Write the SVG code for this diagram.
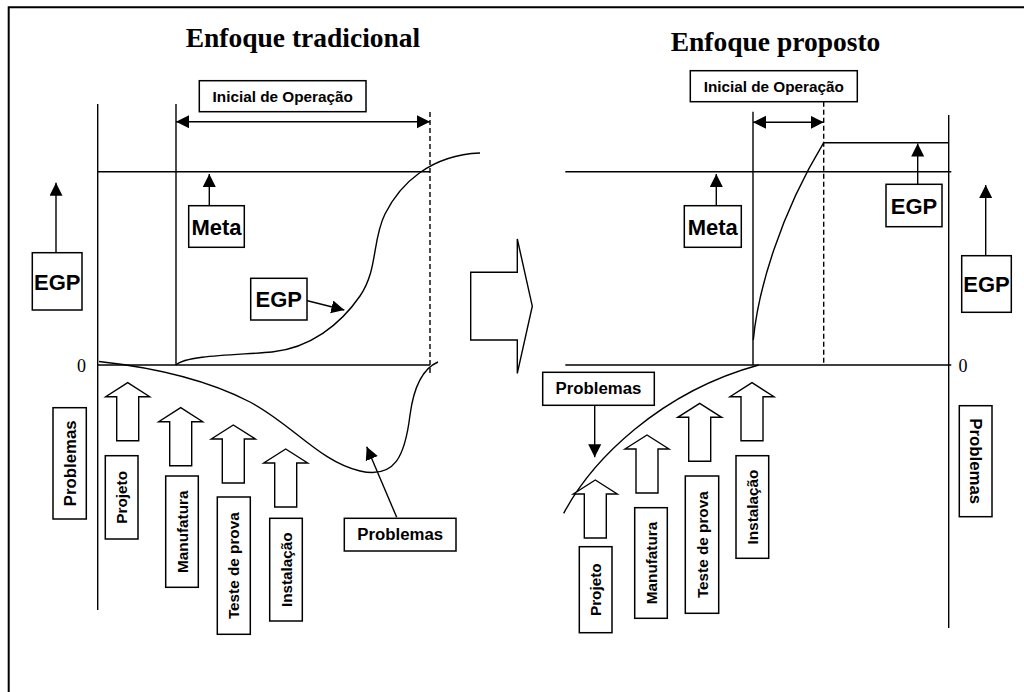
<svg xmlns="http://www.w3.org/2000/svg" xmlns:xlink="http://www.w3.org/1999/xlink" width="1024" height="692" viewBox="0 0 1024 692">
  <style>
    .bg { fill: #ffffff; }
    .frame { stroke: #000; stroke-width: 2; fill: none; }
    .ln { stroke: #000; stroke-width: 1.4; fill: none; }
    .dash { stroke: #000; stroke-width: 1.4; fill: none; stroke-dasharray: 5 3; }
    .box { fill: #fff; stroke: #000; stroke-width: 1.5; }
    .blk { fill: #fff; stroke: #000; stroke-width: 1.4; stroke-linejoin: miter; }
    .title { font-family: "Liberation Serif", "Times New Roman", serif; font-weight: bold; font-size: 27.5px; fill: #000; text-anchor: middle; }
    .zero { font-family: "Liberation Serif", "Times New Roman", serif; font-size: 18px; fill: #000; }
    .lbl { font-family: "Liberation Sans", Arial, sans-serif; font-weight: bold; fill: #000; text-anchor: middle; }
  </style>
  <defs>
    <marker id="ah" markerUnits="userSpaceOnUse" markerWidth="14" markerHeight="14" refX="13" refY="6.5" orient="auto-start-reverse">
      <path d="M0,0 L13,6.5 L0,13 Z" fill="#000"/>
    </marker>
    <!-- hollow upward block arrow, tip at origin -->
    <path id="upArrow" d="M0,0 L22,14 L11,14 L11,58 L-11,58 L-11,14 L-22,14 Z"/>
  </defs>

  <rect class="bg" x="0" y="0" width="1024" height="692"/>

  <!-- page frame -->
  <path class="frame" d="M8.7,692 L8.7,7.3 L1024,7.3"/>

  <!-- titles -->
  <text class="title" x="303" y="47">Enfoque tradicional</text>
  <text class="title" x="775.5" y="50.5">Enfoque proposto</text>

  <!-- ===== traditional approach axes and curves ===== -->
  <g id="left-axes">
    <line class="ln" x1="97.7" y1="104" x2="97.7" y2="610"/>
    <line class="ln" x1="176" y1="104" x2="176" y2="365"/>
    <line class="ln" x1="97.7" y1="171.7" x2="430" y2="171.7"/>
    <line class="ln" x1="97.7" y1="365" x2="430" y2="365"/>
    <line class="dash" x1="430" y1="112" x2="430" y2="373"/>
    <text class="zero" x="77" y="372">0</text>
  </g>
  <g id="left-curves">
    <path class="ln" d="M176,365 C186,355 240,355 272,352 C310,348 340,325 360,296 C378,270 372,240 385,214 C400,184 430,155 480,153"/>
    <path class="ln" d="M99,361.5 C140,366 200,376 250,402 C292,424 320,462 360,471 C395,479 405,456 410,415 C414,385 424,368 438,362"/>
  </g>

  <!-- ===== proposed approach axes and curves ===== -->
  <g id="right-axes">
    <line class="ln" x1="753" y1="111.7" x2="753" y2="365"/>
    <line class="dash" x1="823.7" y1="101.7" x2="823.7" y2="365"/>
    <line class="ln" x1="948.7" y1="115" x2="948.7" y2="628"/>
    <line class="ln" x1="823.7" y1="142.7" x2="948.7" y2="142.7"/>
    <line class="ln" x1="565.3" y1="171.7" x2="951.3" y2="171.7"/>
    <line class="ln" x1="565.3" y1="365" x2="951.3" y2="365"/>
    <text class="zero" x="958.5" y="372">0</text>
  </g>
  <g id="right-curves">
    <path class="ln" d="M753.3,340 C758,290 780,215 823.7,142.7"/>
    <path class="ln" d="M563.7,513.3 C592,460 660,392 758.7,365"/>
  </g>

  <!-- transition arrow between the two approaches -->
  <g id="transition-arrow">
    <path class="blk" d="M470.7,272.3 L517.3,272.3 L517.3,239 L532.3,306.2 L517.3,373.4 L517.3,340 L470.7,340 Z"/>
  </g>

  <!-- ===== connectors ===== -->
  <g id="connectors">
    <line class="ln" x1="176" y1="121.7" x2="430" y2="121.7" marker-start="url(#ah)" marker-end="url(#ah)"/>
    <line class="ln" x1="209.3" y1="205.7" x2="209.3" y2="174" marker-end="url(#ah)"/>
    <line class="ln" x1="56" y1="255" x2="56" y2="182.7" marker-end="url(#ah)"/>
    <line class="ln" x1="302.5" y1="299.5" x2="344.3" y2="310" marker-end="url(#ah)"/>
    <line class="ln" x1="396.7" y1="517.3" x2="366.7" y2="446.7" marker-end="url(#ah)"/>

    <line class="ln" x1="753" y1="122.3" x2="823.7" y2="122.3" marker-start="url(#ah)" marker-end="url(#ah)"/>
    <line class="ln" x1="716.3" y1="205.7" x2="716.3" y2="174" marker-end="url(#ah)"/>
    <line class="ln" x1="917.7" y1="184.3" x2="917.7" y2="143.5" marker-end="url(#ah)"/>
    <line class="ln" x1="985.7" y1="256.7" x2="985.7" y2="185" marker-end="url(#ah)"/>
    <line class="ln" x1="594.7" y1="405.3" x2="594.7" y2="457.3" marker-end="url(#ah)"/>
  </g>

  <!-- ===== traditional approach nodes ===== -->
  <g id="left-inicial">
    <rect class="box" x="199.3" y="80.7" width="166.7" height="31"/>
    <text class="lbl" x="282.7" y="101.5" font-size="15.3">Inicial de Operação</text>
  </g>
  <g id="left-meta">
    <rect class="box" x="188.7" y="205.7" width="55.6" height="41.6"/>
    <text class="lbl" x="216.5" y="234.5" font-size="22">Meta</text>
  </g>
  <g id="left-egp-axis">
    <rect class="box" x="32.3" y="252.7" width="49.7" height="57.3"/>
    <text class="lbl" x="57.2" y="289.5" font-size="22">EGP</text>
  </g>
  <g id="left-egp-curve">
    <rect class="box" x="250.7" y="278.3" width="56.3" height="41.7"/>
    <text class="lbl" x="278.8" y="307" font-size="22">EGP</text>
  </g>
  <g id="left-problemas-axis">
    <rect class="box" x="53" y="407.7" width="33.3" height="111.3"/>
    <text class="lbl" transform="translate(69.7,463.3) rotate(-90)" x="0" y="6" font-size="16.8">Problemas</text>
  </g>
  <g id="left-problemas-curve">
    <rect class="box" x="344.3" y="518.3" width="111.7" height="32.7"/>
    <text class="lbl" x="400.2" y="540.3" font-size="16.8">Problemas</text>
  </g>
  <g id="left-projeto">
    <use href="#upArrow" xlink:href="#upArrow" class="blk" x="127.7" y="382.7"/>
    <rect class="box" x="105.3" y="455.7" width="32.7" height="83.3"/>
    <text class="lbl" transform="translate(121.7,497.3) rotate(-90)" x="0" y="5.5" font-size="15.3">Projeto</text>
  </g>
  <g id="left-manufatura">
    <use href="#upArrow" xlink:href="#upArrow" class="blk" x="180.7" y="407.7"/>
    <rect class="box" x="165.7" y="476" width="32.6" height="111.3"/>
    <text class="lbl" transform="translate(182,531.7) rotate(-90)" x="0" y="5.5" font-size="15.3">Manufatura</text>
  </g>
  <g id="left-teste">
    <use href="#upArrow" xlink:href="#upArrow" class="blk" x="233.3" y="425"/>
    <rect class="box" x="217.3" y="497" width="33" height="137.3"/>
    <text class="lbl" transform="translate(233.8,565.7) rotate(-90)" x="0" y="5.5" font-size="15.3">Teste de prova</text>
  </g>
  <g id="left-instalacao">
    <use href="#upArrow" xlink:href="#upArrow" class="blk" x="285.7" y="449"/>
    <rect class="box" x="269.7" y="518.3" width="32.6" height="102.7"/>
    <text class="lbl" transform="translate(286,569.7) rotate(-90)" x="0" y="5.5" font-size="15.3">Instalação</text>
  </g>

  <!-- ===== proposed approach nodes ===== -->
  <g id="right-inicial">
    <rect class="box" x="690.3" y="70.7" width="167" height="31"/>
    <text class="lbl" x="773.8" y="91.5" font-size="15.3">Inicial de Operação</text>
  </g>
  <g id="right-meta">
    <rect class="box" x="684.3" y="205.7" width="57" height="41.6"/>
    <text class="lbl" x="712.8" y="234.5" font-size="22">Meta</text>
  </g>
  <g id="right-egp-level">
    <rect class="box" x="886" y="184.3" width="56" height="42.4"/>
    <text class="lbl" x="914" y="213.5" font-size="22">EGP</text>
  </g>
  <g id="right-egp-axis">
    <rect class="box" x="961.7" y="255.7" width="49.6" height="56.6"/>
    <text class="lbl" x="986.5" y="292" font-size="22">EGP</text>
  </g>
  <g id="right-problemas-curve">
    <rect class="box" x="542.7" y="372.3" width="111.6" height="33"/>
    <text class="lbl" x="598.5" y="394.3" font-size="16.8">Problemas</text>
  </g>
  <g id="right-problemas-axis">
    <rect class="box" x="959.3" y="405.7" width="32.7" height="111"/>
    <text class="lbl" transform="translate(975.7,461.2) rotate(90)" x="0" y="6" font-size="16.8">Problemas</text>
  </g>
  <g id="right-projeto">
    <use href="#upArrow" xlink:href="#upArrow" class="blk" x="595.3" y="480"/>
    <rect class="box" x="579.3" y="546.7" width="32.7" height="86"/>
    <text class="lbl" transform="translate(595.7,589.7) rotate(-90)" x="0" y="5.5" font-size="15.3">Projeto</text>
  </g>
  <g id="right-manufatura">
    <use href="#upArrow" xlink:href="#upArrow" class="blk" x="647" y="435"/>
    <rect class="box" x="634.7" y="507.7" width="32.6" height="110.6"/>
    <text class="lbl" transform="translate(651,563) rotate(-90)" x="0" y="5.5" font-size="15.3">Manufatura</text>
  </g>
  <g id="right-teste">
    <use href="#upArrow" xlink:href="#upArrow" class="blk" x="699.7" y="403.3"/>
    <rect class="box" x="685.3" y="476" width="33.4" height="137.3"/>
    <text class="lbl" transform="translate(702,544.7) rotate(-90)" x="0" y="5.5" font-size="15.3">Teste de prova</text>
  </g>
  <g id="right-instalacao">
    <use href="#upArrow" xlink:href="#upArrow" class="blk" x="752" y="382.7"/>
    <rect class="box" x="736" y="455.7" width="32.7" height="102.6"/>
    <text class="lbl" transform="translate(752.3,507) rotate(-90)" x="0" y="5.5" font-size="15.3">Instalação</text>
  </g>
</svg>
